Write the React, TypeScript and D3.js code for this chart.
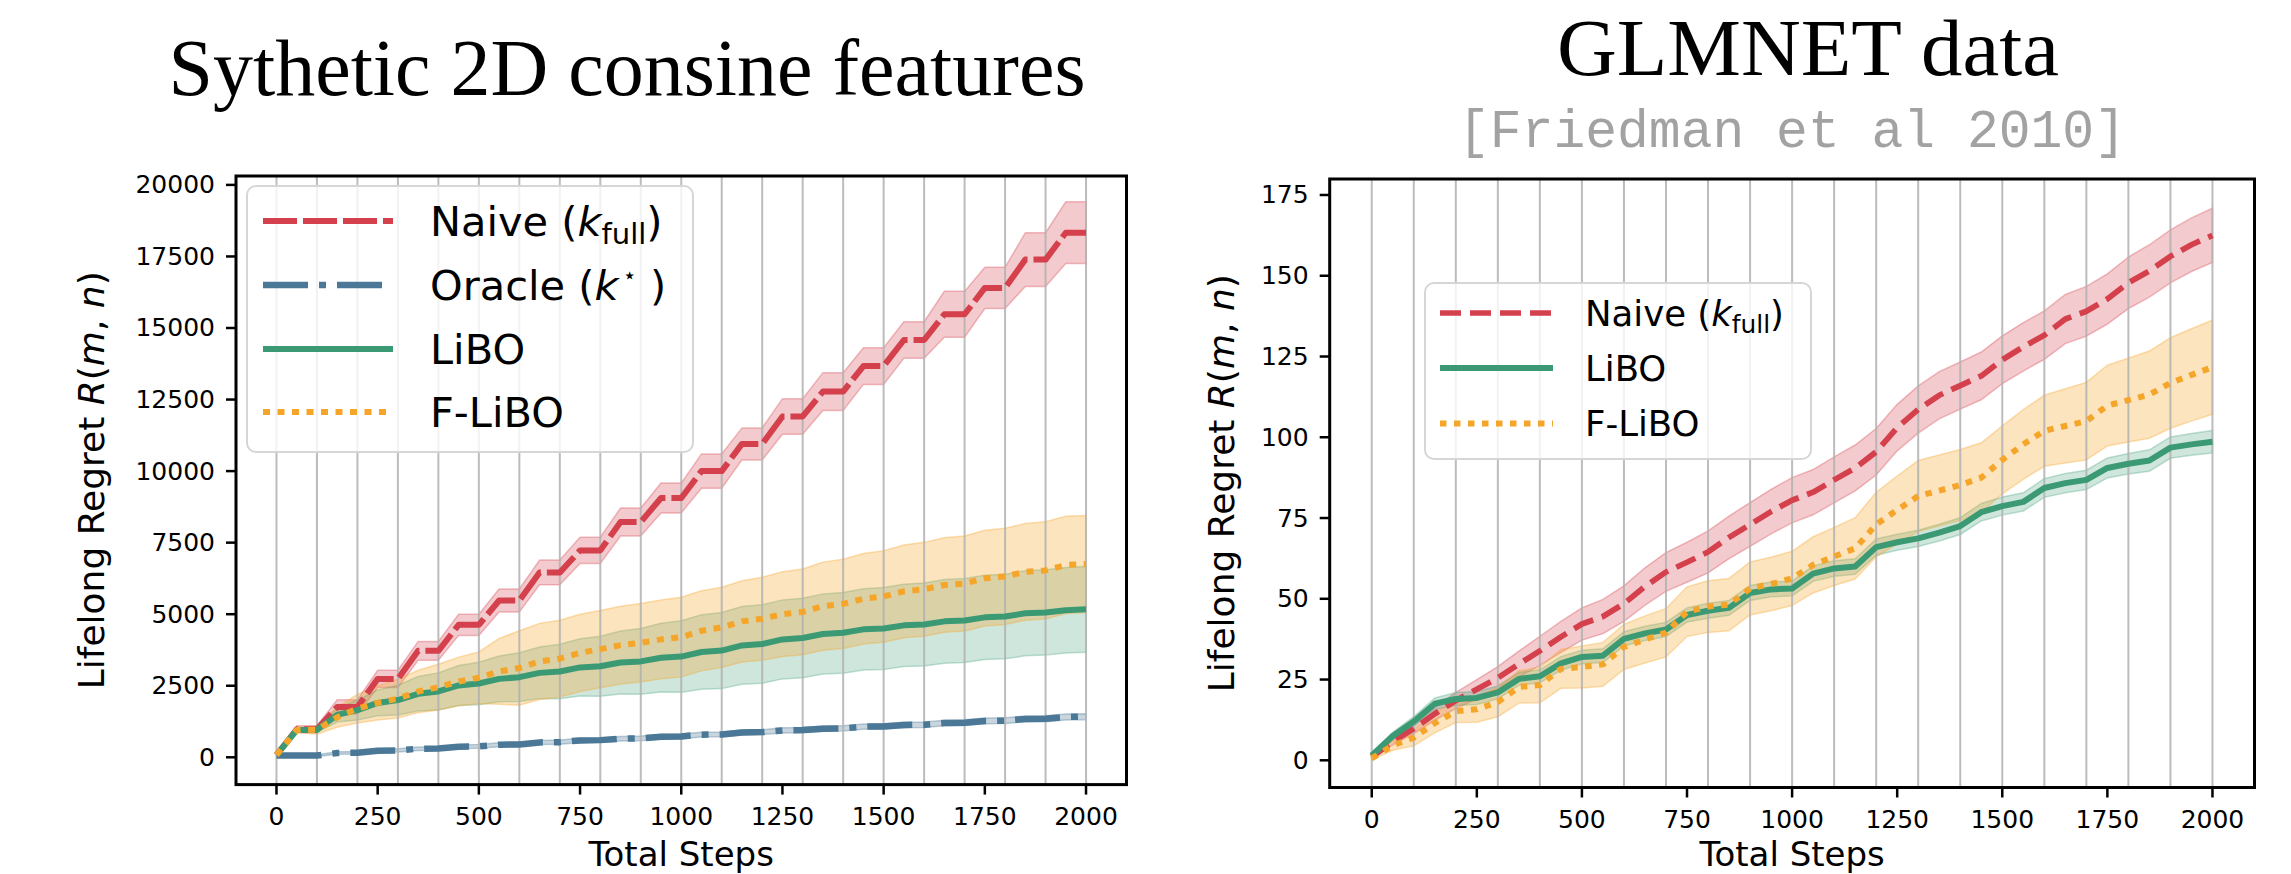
import React from "react";
import * as d3 from "d3";

// total steps at which the curves are sampled
const STEPS = [
  0, 50, 100, 150, 200, 250, 300, 350, 400, 450, 500, 550, 600, 650, 700, 750, 800, 850, 900, 950, 1000,
  1050, 1100, 1150, 1200, 1250, 1300, 1350, 1400, 1450, 1500, 1550, 1600, 1650, 1700, 1750, 1800, 1850,
  1900, 1950, 2000,
];

const X_TICKS = [0, 250, 500, 750, 1000, 1250, 1500, 1750, 2000];
const GRID_X = [
  0, 100, 200, 300, 400, 500, 600, 700, 800, 900, 1000, 1100, 1200, 1300, 1400, 1500, 1600, 1700, 1800,
  1900, 2000,
];
const SYN_Y_TICKS = [0, 2500, 5000, 7500, 10000, 12500, 15000, 17500, 20000];
const GLM_Y_TICKS = [0, 25, 50, 75, 100, 125, 150, 175];

// synthetic 2D cosine features
const SYN_NAIVE = [
  80, 980, 980, 1760, 1760, 2740, 2740, 3720, 3720, 4630, 4630, 5480, 5480, 6460, 6460, 7230, 7230, 8220,
  8220, 9060, 9060, 10000, 10000, 10950, 10950, 11910, 11910, 12780, 12780, 13670, 13670, 14580, 14580,
  15480, 15480, 16400, 16400, 17390, 17390, 18330, 18330,
];
const SYN_NAIVE_SD = [
  0, 120, 120, 250, 250, 300, 300, 330, 330, 370, 370, 400, 400, 430, 430, 460, 460, 490, 490, 520, 520,
  600, 600, 560, 560, 620, 620, 660, 660, 640, 640, 640, 640, 800, 800, 720, 720, 940, 940, 1080, 1080,
];
const SYN_ORACLE = [
  60, 60, 60, 150, 160, 230, 240, 300, 310, 370, 380, 440, 450, 520, 530, 590, 600, 650, 660, 720, 730, 790,
  800, 870, 880, 940, 950, 1000, 1010, 1070, 1080, 1130, 1140, 1200, 1210, 1270, 1280, 1340, 1350, 1410,
  1420,
];
const SYN_ORACLE_SD = [
  0, 20, 30, 40, 45, 50, 55, 60, 60, 65, 65, 70, 70, 70, 75, 75, 75, 80, 80, 80, 80, 85, 85, 85, 85, 90, 90,
  90, 90, 90, 95, 95, 95, 95, 100, 100, 100, 100, 105, 105, 105,
];
const SYN_LIBO = [
  80, 950, 955, 1480, 1650, 1900, 2000, 2220, 2300, 2510, 2580, 2740, 2800, 2950, 3000, 3140, 3180, 3310,
  3350, 3480, 3520, 3680, 3730, 3910, 3960, 4120, 4170, 4310, 4350, 4470, 4500, 4610, 4640, 4750, 4780,
  4890, 4920, 5030, 5060, 5140, 5170,
];
const SYN_LIBO_SD = [
  0, 60, 80, 250, 350, 450, 520, 600, 650, 700, 740, 800, 850, 900, 950, 1000, 1050, 1100, 1150, 1200,
  1250, 1300, 1330, 1360, 1370, 1380, 1390, 1400, 1410, 1420, 1430, 1440, 1450, 1460, 1470, 1475, 1480,
  1485, 1490, 1495, 1500,
];
const SYN_FLIBO = [
  80, 950, 960, 1400, 1700, 1900, 2050, 2300, 2450, 2650, 2780, 3000, 3120, 3350, 3450, 3650, 3780, 3920,
  4000, 4120, 4200, 4420, 4540, 4750, 4840, 5000, 5080, 5280, 5360, 5540, 5620, 5800, 5870, 6020, 6070,
  6260, 6320, 6480, 6530, 6720, 6750,
];
const SYN_FLIBO_SD = [
  0, 80, 150, 350, 500, 600, 680, 740, 800, 850, 900, 1150, 1300, 1330, 1340, 1350, 1350, 1360, 1370,
  1380, 1390, 1400, 1400, 1420, 1450, 1480, 1500, 1540, 1560, 1580, 1600, 1620, 1640, 1650, 1660, 1670,
  1680, 1690, 1700, 1700, 1700,
];

// GLMNET data
const GLM_NAIVE = [
  1, 5.8, 9.8, 14.4, 18.5, 22, 25.5, 29.8, 33.9, 38.2, 42.2, 44.5, 48.5, 53.8, 58.3, 61.3, 64.5, 69, 73,
  77, 80.5, 83, 86.8, 90.5, 95.5, 103, 108.6, 113, 116, 119, 124, 128, 131.6, 136.6, 139, 142.8, 147.8,
  151.5, 156, 159.6, 162.5,
];
const GLM_NAIVE_SD = [
  0.3, 1, 1.5, 2, 2.5, 3, 3.5, 4, 4.5, 4.8, 5, 5.3, 5.5, 5.8, 6, 6.2, 6.5, 6.6, 6.8, 6.9, 7, 7, 7.1, 7.1,
  7.2, 7.2, 7.3, 7.3, 7.3, 7.4, 7.4, 7.5, 7.5, 7.6, 7.7, 7.8, 8, 8.1, 8.2, 8.3, 8.4,
];
const GLM_LIBO = [
  1.5, 7.5, 12, 17.5, 19, 19.3, 21, 25.2, 26, 30, 32, 32.4, 37.6, 39.3, 40.5, 45, 46.3, 47.2, 51.8, 52.9,
  53.2, 57.8, 59.4, 60, 66, 67.5, 68.7, 70.5, 72.5, 76.8, 78.7, 80, 84.3, 85.8, 86.8, 90.5, 91.8, 92.8,
  96.8, 97.8, 98.6,
];
const GLM_LIBO_SD = [
  0.5, 1.2, 1.5, 1.8, 2, 2, 2, 2, 2, 2.1, 2.1, 2.1, 2.2, 2.2, 2.2, 2.2, 2.3, 2.3, 2.3, 2.3, 2.3, 2.4, 2.4,
  2.4, 2.5, 2.5, 2.5, 2.6, 2.6, 2.7, 2.8, 2.8, 2.9, 3, 3, 3.1, 3.2, 3.3, 3.3, 3.4, 3.5,
];
const GLM_FLIBO = [
  0.6, 4.6, 7, 11.5, 15.2, 15.8, 18, 22.7, 23.3, 28.3, 28.9, 29.7, 35.1, 37.4, 39.5, 46, 47.6, 48.2, 53.2,
  54.6, 56.3, 60.5, 63.1, 65.6, 73, 77.5, 81.8, 83.5, 85.2, 87.5, 93, 97.8, 102, 103.5, 105, 109.8, 111.5,
  113.2, 116.8, 119.3, 121.7,
];
const GLM_FLIBO_SD = [
  0.5, 1.5, 2.5, 3, 3.5, 4, 4.5, 5, 5.5, 6, 6.5, 6.8, 7, 7.3, 7.5, 7.7, 8, 8.1, 8.2, 8.3, 8.4, 8.7, 9, 9.5,
  10, 10.5, 11, 11, 11, 10.8, 10.5, 10.8, 11, 11.5, 12, 12.5, 13, 13.5, 14, 14.3, 14.6,
];

const RED = "#d4404c";
const BLUE = "#4b7896";
const GREEN = "#3b9a74";
const ORANGE = "#f5a52a";
const SANS = "'DejaVu Sans', Verdana, sans-serif";

type Series = {
  label: string;
  mean: number[];
  sd: number[];
  color: string;
  dash?: string;
  width: number;
  band: number;
};

type Frame = { left: number; right: number; top: number; bottom: number };

type LegendCfg = {
  x: number;
  y: number;
  w: number;
  h: number;
  rows: number[];
  lineX: [number, number];
  textX: number;
  fs: number;
};

function Label({ label, x, y, fs }: { label: string; x: number; y: number; fs: number }) {
  if (label === "naive") {
    return (
      <text x={x} y={y} fontSize={fs} fontFamily={SANS}>
        {"Naive ("}
        <tspan fontStyle="italic">k</tspan>
        <tspan fontSize={fs * 0.7} dy={fs * 0.2}>
          full
        </tspan>
        <tspan dy={-fs * 0.2}>)</tspan>
      </text>
    );
  }
  if (label === "oracle") {
    return (
      <text x={x} y={y} fontSize={fs} fontFamily={SANS}>
        {"Oracle ("}
        <tspan fontStyle="italic">k</tspan>
        <tspan fontSize={fs * 0.55} dx={fs * 0.1} dy={-fs * 0.4}>
          {"\u22C6"}
        </tspan>
        <tspan dy={fs * 0.4}>{" )"}</tspan>
      </text>
    );
  }
  return (
    <text x={x} y={y} fontSize={fs} fontFamily={SANS}>
      {label}
    </text>
  );
}

function Panel({
  frame,
  yDomain,
  yTicks,
  series,
  legend,
  ylabelX,
}: {
  frame: Frame;
  yDomain: [number, number];
  yTicks: number[];
  series: Series[];
  legend: LegendCfg;
  ylabelX: number;
}) {
  const x = d3.scaleLinear().domain([-100, 2100]).range([frame.left, frame.right]);
  const y = d3.scaleLinear().domain(yDomain).range([frame.bottom, frame.top]);
  const idx = STEPS.map((_, i) => i);
  const cy = (frame.top + frame.bottom) / 2;
  const cx = (frame.left + frame.right) / 2;

  return (
    <g>
      {/* std bands */}
      {series.map((s) => {
        const area = d3
          .area<number>()
          .x((i) => x(STEPS[i]))
          .y0((i) => y(s.mean[i] - s.sd[i]))
          .y1((i) => y(s.mean[i] + s.sd[i]));
        return (
          <path
            key={"band" + s.label}
            d={area(idx) || ""}
            fill={s.color}
            fillOpacity={s.band}
            stroke={s.color}
            strokeOpacity={s.band + 0.05}
            strokeWidth={1.5}
          />
        );
      })}

      {/* vertical grid */}
      {GRID_X.map((g) => (
        <line key={"g" + g} x1={x(g)} x2={x(g)} y1={frame.top} y2={frame.bottom} stroke="#b0b0b0" strokeWidth={2} strokeOpacity={0.85} />
      ))}

      {/* mean lines */}
      {series.map((s) => {
        const line = d3
          .line<number>()
          .x((i) => x(STEPS[i]))
          .y((i) => y(s.mean[i]));
        return (
          <path
            key={"line" + s.label}
            d={line(idx) || ""}
            fill="none"
            stroke={s.color}
            strokeWidth={s.width}
            strokeDasharray={s.dash}
            strokeLinejoin="round"
          />
        );
      })}

      {/* legend */}
      <rect x={legend.x} y={legend.y} width={legend.w} height={legend.h} rx={9} fill="#ffffff" fillOpacity={0.8} stroke="#d6d6d6" strokeWidth={2} />
      {series.map((s, k) => (
        <g key={"leg" + s.label}>
          <line
            x1={legend.lineX[0]}
            x2={legend.lineX[1]}
            y1={legend.rows[k]}
            y2={legend.rows[k]}
            stroke={s.color}
            strokeWidth={s.width}
            strokeDasharray={s.dash}
          />
          <Label label={s.label} x={legend.textX} y={legend.rows[k] + legend.fs * 0.36} fs={legend.fs} />
        </g>
      ))}

      {/* frame */}
      <rect x={frame.left} y={frame.top} width={frame.right - frame.left} height={frame.bottom - frame.top} fill="none" stroke="#000" strokeWidth={3} />

      {/* x axis */}
      {X_TICKS.map((t) => (
        <g key={"xt" + t}>
          <line x1={x(t)} x2={x(t)} y1={frame.bottom} y2={frame.bottom + 10} stroke="#000" strokeWidth={2.5} />
          <text x={x(t)} y={frame.bottom + 40} textAnchor="middle" fontSize={25} fontFamily={SANS}>
            {t}
          </text>
        </g>
      ))}
      <text x={cx} y={866} textAnchor="middle" fontSize={34} fontFamily={SANS}>
        Total Steps
      </text>

      {/* y axis */}
      {yTicks.map((t) => (
        <g key={"yt" + t}>
          <line x1={frame.left - 10} x2={frame.left} y1={y(t)} y2={y(t)} stroke="#000" strokeWidth={2.5} />
          <text x={frame.left - 21} y={y(t)} textAnchor="end" dominantBaseline="central" fontSize={25} fontFamily={SANS}>
            {t}
          </text>
        </g>
      ))}
      <text transform={`translate(${ylabelX},${cy}) rotate(-90)`} textAnchor="middle" fontSize={36} fontFamily={SANS}>
        {"Lifelong Regret "}
        <tspan fontStyle="italic">R</tspan>
        {"("}
        <tspan fontStyle="italic">m</tspan>
        {", "}
        <tspan fontStyle="italic">n</tspan>
        {")"}
      </text>
    </g>
  );
}

export default function App() {
  const synSeries: Series[] = [
    { label: "naive", mean: SYN_NAIVE, sd: SYN_NAIVE_SD, color: RED, dash: "34 6", width: 6, band: 0.28 },
    { label: "oracle", mean: SYN_ORACLE, sd: SYN_ORACLE_SD, color: BLUE, dash: "45 11 7 11", width: 6.5, band: 0.3 },
    { label: "LiBO", mean: SYN_LIBO, sd: SYN_LIBO_SD, color: GREEN, width: 6, band: 0.25 },
    { label: "F-LiBO", mean: SYN_FLIBO, sd: SYN_FLIBO_SD, color: ORANGE, dash: "7 7.5", width: 6, band: 0.3 },
  ];
  const glmSeries: Series[] = [
    { label: "naive", mean: GLM_NAIVE, sd: GLM_NAIVE_SD, color: RED, dash: "21 9", width: 5.7, band: 0.28 },
    { label: "LiBO", mean: GLM_LIBO, sd: GLM_LIBO_SD, color: GREEN, width: 6, band: 0.25 },
    { label: "F-LiBO", mean: GLM_FLIBO, sd: GLM_FLIBO_SD, color: ORANGE, dash: "6.5 7.5", width: 6, band: 0.3 },
  ];

  return (
    <svg width={2291} height={874} style={{ position: "absolute", left: 0, top: 0, background: "#fff" }}>
      <rect width={2291} height={874} fill="#fff" />
      <text x={627} y={95} textAnchor="middle" fontSize={80} fontFamily="'Liberation Serif', 'Times New Roman', serif" textLength={917} lengthAdjust="spacingAndGlyphs">
        Sythetic 2D consine features
      </text>
      <text x={1808} y={75} textAnchor="middle" fontSize={80} fontFamily="'Liberation Serif', 'Times New Roman', serif" textLength={502} lengthAdjust="spacingAndGlyphs">
        GLMNET data
      </text>
      <text x={1792} y={147} textAnchor="middle" fontSize={53} fill="#a2a2a2" fontFamily="'Liberation Mono', 'Courier New', monospace">
        [Friedman et al 2010]
      </text>

      <Panel
        frame={{ left: 236, right: 1126.5, top: 176, bottom: 784.6 }}
        yDomain={[-954, 20311]}
        yTicks={SYN_Y_TICKS}
        series={synSeries}
        legend={{ x: 247, y: 186, w: 446, h: 266, rows: [221, 285, 349, 412], lineX: [263, 393], textX: 430, fs: 41.5 }}
        ylabelX={104}
      />
      <Panel
        frame={{ left: 1329.7, right: 2254.5, top: 179, bottom: 787.5 }}
        yDomain={[-8.42, 179.95]}
        yTicks={GLM_Y_TICKS}
        series={glmSeries}
        legend={{ x: 1425, y: 283, w: 386, h: 176, rows: [313, 368, 423.5], lineX: [1440, 1553], textX: 1585, fs: 35.5 }}
        ylabelX={1234}
      />
    </svg>
  );
}
